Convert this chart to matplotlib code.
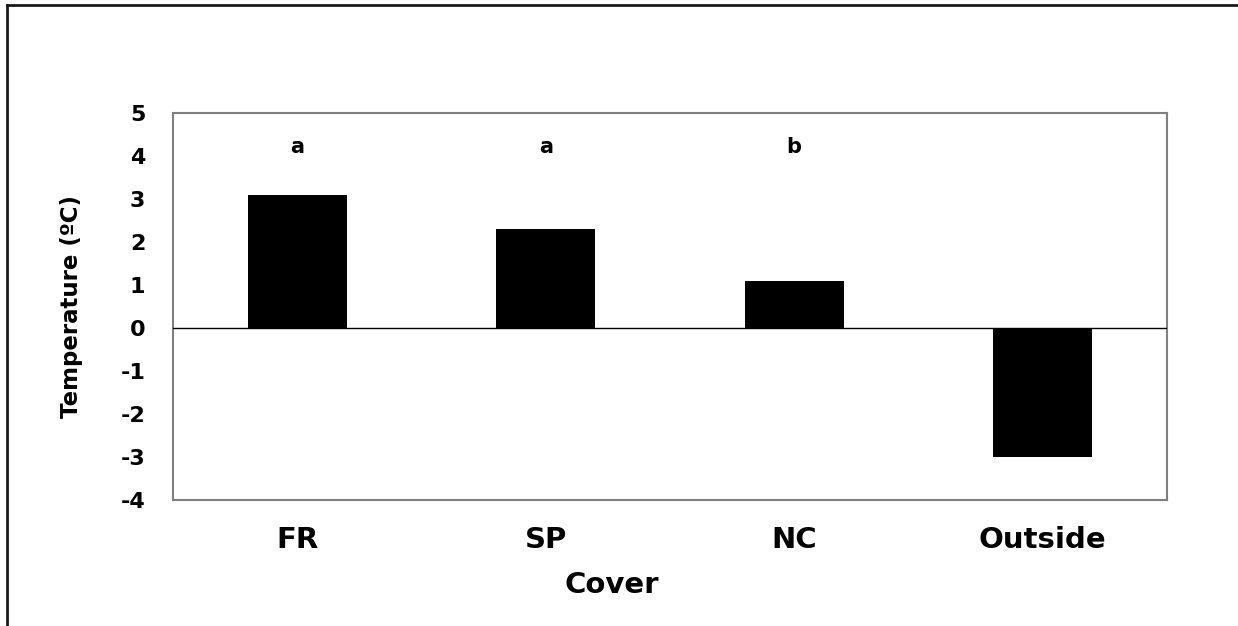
import matplotlib
matplotlib.use("Agg")
import matplotlib.pyplot as plt
from matplotlib.lines import Line2D

# the reference text is a wide bold sans; DejaVu Sans Bold is closest in width
plt.rcParams['font.family'] = ['DejaVu Sans']
plt.rcParams['font.weight'] = 'bold'

# data
covers = ['FR', 'SP', 'NC', 'Outside']
temps = [3.1, 2.3, 1.1, -3.0]
letters = ['a', 'a', 'b', '']
letter_y = 4.2
yticks = [-4, -3, -2, -1, 0, 1, 2, 3, 4, 5]

fig = plt.figure(figsize=(12.38, 6.26), dpi=100)
ax = fig.add_axes([173 / 1238, 1 - 500 / 626, 994 / 1238, 387 / 626])

x = list(range(len(covers)))
ax.bar(x, temps, width=0.4, color='black', zorder=2)
ax.axhline(0, color='black', lw=1.0, zorder=3)

for xi, lab in zip(x, letters):
    ax.text(xi, letter_y, lab, ha='center', va='center', fontsize=15, fontweight='bold')

ax.set_xlim(-0.5, len(covers) - 0.5)
ax.set_ylim(-4, 5)
ax.set_yticks(yticks)
ax.set_yticklabels([str(t) for t in yticks], fontsize=16, fontweight='bold')
ax.set_xticks(x)
ax.set_xticklabels(covers, fontsize=21, fontweight='bold')
ax.tick_params(axis='y', length=0, pad=20)
ax.tick_params(axis='x', length=0, pad=19)

for s in ax.spines.values():
    s.set_color('#808080')
    s.set_linewidth(1.5)

ax.set_ylabel('Temperature (ºC)', fontsize=16.5, fontweight='bold', labelpad=27)
fig.text(612 / 1238, 1 - 585 / 626, 'Cover', ha='center', va='center',
         fontsize=21, fontweight='bold')

# outer frame, only left and top edges are inside the crop
fig.add_artist(Line2D([7 / 1238, 7 / 1238], [0, 1 - 5 / 626], color='#1a1a1a', lw=2,
                      transform=fig.transFigure))
fig.add_artist(Line2D([7 / 1238, 1], [1 - 5 / 626, 1 - 5 / 626], color='#1a1a1a', lw=2,
                      transform=fig.transFigure))

fig.savefig('out.png', dpi=100)
